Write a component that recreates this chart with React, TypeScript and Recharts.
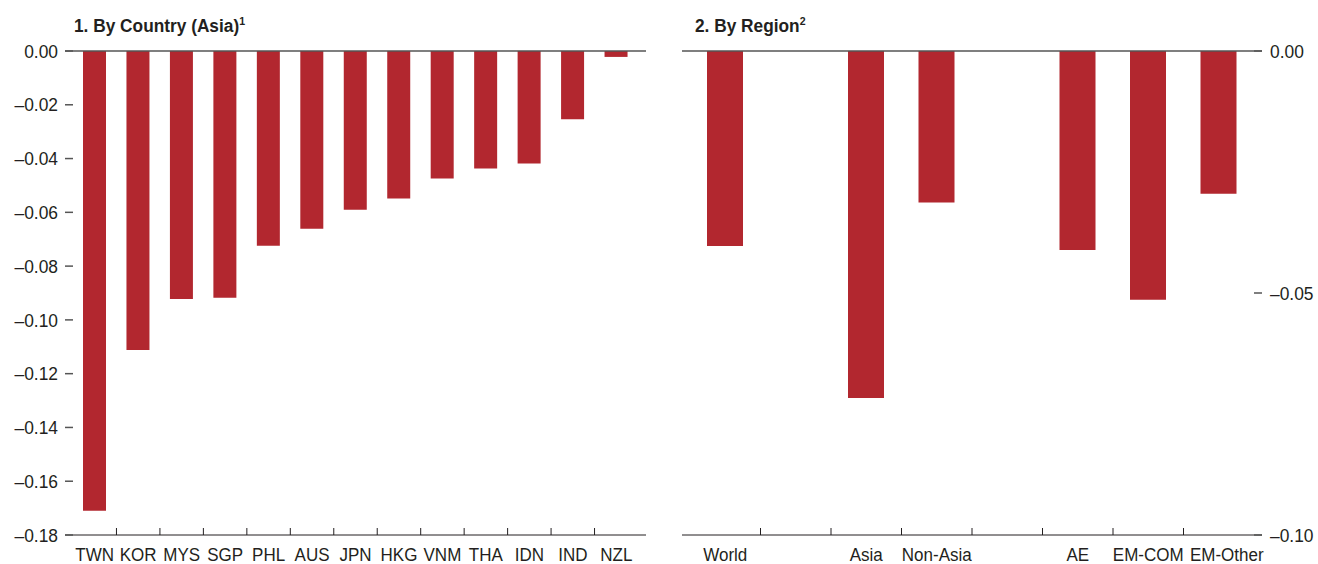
import React from "react";
import { BarChart, Bar, XAxis, YAxis, ReferenceLine } from "recharts";

const countries = ["TWN", "KOR", "MYS", "SGP", "PHL", "AUS", "JPN", "HKG", "VNM", "THA", "IDN", "IND", "NZL"];
const countryValues = [-0.171, -0.1112, -0.0922, -0.0918, -0.0724, -0.0661, -0.059, -0.0549, -0.0474, -0.0437, -0.0418, -0.0254, -0.0022];
const countryTicks = [0, -0.02, -0.04, -0.06, -0.08, -0.1, -0.12, -0.14, -0.16, -0.18];

const regions = ["World", "", "Asia", "Non-Asia", "", "AE", "EM-COM", "EM-Other"];
const regionValues = [-0.0403, null, -0.0717, -0.0313, null, -0.0411, -0.0514, -0.0295];
const regionTicks = [0, -0.05, -0.1];

const countryData = countries.map((name, i) => ({ name, value: countryValues[i] }));
const regionData = regions.map((name, i) => ({ name, value: regionValues[i] }));

const FONT = "'Liberation Sans', Arial, sans-serif";
const INK = "#231f20";
const RED = "#b2272f";

const fmt = (v: number) => (v < 0 ? "\u2013" : "") + Math.abs(v).toFixed(2);

// category label in the middle, small upward tick at the right edge of the band
const CategoryTick = (props: any) => {
  const { x, y, payload, count, lastDx = 0 } = props;
  const half = payload.offset ?? 0;
  const isLast = payload.index === count - 1;
  return (
    <g>
      {!isLast && (
        <line x1={x + half} x2={x + half} y1={y} y2={y - 7} stroke={INK} strokeWidth={1} />
      )}
      <text
        transform={`translate(${x + (isLast ? lastDx : 0)},${y + 26}) scale(0.92,1)`}
        textAnchor="middle"
        fontFamily={FONT}
        fontSize={18.5}
        fill={INK}
      >
        {payload.value}
      </text>
    </g>
  );
};

// value tick: inward dash plus optional label
const ValueTick = (props: any) => {
  const { x, y, payload, side, gap, label } = props;
  const edge = side === "left" ? x + gap : x - gap;
  const inner = side === "left" ? edge + 8 : edge - 8;
  return (
    <g>
      <line x1={edge} x2={inner} y1={y} y2={y} stroke="#555" strokeWidth={1.5} />
      {label && (
        <text
          transform={`translate(${x},${y}) scale(0.94,1)`}
          dy="0.36em"
          textAnchor={side === "left" ? "end" : "start"}
          fontFamily={FONT}
          fontSize={18.5}
          fill={INK}
        >
          {fmt(payload.value)}
        </text>
      )}
    </g>
  );
};

const Title = ({ left, text, note }: { left: number; text: string; note: string }) => (
  <div
    style={{
      position: "absolute",
      left,
      top: 15,
      fontFamily: FONT,
      fontWeight: "bold",
      fontSize: 18,
      color: INK,
      whiteSpace: "nowrap",
      transform: "scaleX(0.96)",
      transformOrigin: "left top",
    }}
  >
    {text}
    <sup style={{ fontSize: 11 }}>{note}</sup>
  </div>
);

export default function App() {
  return (
    <div style={{ position: "absolute", left: 0, top: 0, width: 1318, height: 564, background: "#fff" }}>
      <Title left={74} text="1. By Country (Asia)" note="1" />
      <Title left={695} text="2. By Region" note="2" />

      <div style={{ position: "absolute", left: 0, top: 0 }}>
        <BarChart width={660} height={564} data={countryData} margin={{ top: 51, right: 0, bottom: 0, left: 0 }}>
          <XAxis
            dataKey="name"
            height={29}
            padding={{ left: 8, right: 8 }}
            axisLine={{ stroke: INK, strokeWidth: 1 }}
            tickLine={false}
            tickSize={0}
            tickMargin={0}
            interval={0}
            tick={(p: any) => <CategoryTick {...p} count={countries.length} />}
          />
          <YAxis
            yAxisId="l"
            orientation="left"
            width={65}
            domain={[-0.18, 0]}
            ticks={countryTicks}
            axisLine={false}
            tickLine={false}
            tickSize={0}
            tickMargin={7}
            interval={0}
            tick={(p: any) => <ValueTick {...p} side="left" gap={7} label />}
          />
          <YAxis
            yAxisId="r"
            orientation="right"
            width={14}
            domain={[-0.18, 0]}
            ticks={countryTicks}
            axisLine={false}
            tickLine={false}
            tickSize={0}
            tickMargin={0}
            interval={0}
            tick={(p: any) => <ValueTick {...p} side="right" gap={0} />}
          />
          <Bar yAxisId="l" dataKey="value" fill={RED} barSize={23} isAnimationActive={false} />
          <ReferenceLine yAxisId="l" y={0} stroke="#555" strokeWidth={1.5} />
        </BarChart>
      </div>

      <div style={{ position: "absolute", left: 660, top: 0 }}>
        <BarChart width={658} height={564} data={regionData} margin={{ top: 51, right: 0, bottom: 0, left: 0 }}>
          <XAxis
            dataKey="name"
            height={29}
            padding={{ left: 8, right: 8 }}
            axisLine={{ stroke: INK, strokeWidth: 1 }}
            tickLine={false}
            tickSize={0}
            tickMargin={0}
            interval={0}
            tick={(p: any) => <CategoryTick {...p} count={regions.length} lastDx={8} />}
          />
          <YAxis
            yAxisId="l"
            orientation="left"
            width={22}
            domain={[-0.1, 0]}
            ticks={regionTicks}
            axisLine={false}
            tickLine={false}
            tickSize={0}
            tickMargin={0}
            interval={0}
            tick={(p: any) => <ValueTick {...p} side="left" gap={0} />}
          />
          <YAxis
            yAxisId="r"
            orientation="right"
            width={56}
            domain={[-0.1, 0]}
            ticks={regionTicks}
            axisLine={false}
            tickLine={false}
            tickSize={0}
            tickMargin={8}
            interval={0}
            tick={(p: any) => <ValueTick {...p} side="right" gap={8} label />}
          />
          <Bar yAxisId="r" dataKey="value" fill={RED} barSize={36} isAnimationActive={false} />
          <ReferenceLine yAxisId="r" y={0} stroke="#555" strokeWidth={1.5} />
        </BarChart>
      </div>
    </div>
  );
}
